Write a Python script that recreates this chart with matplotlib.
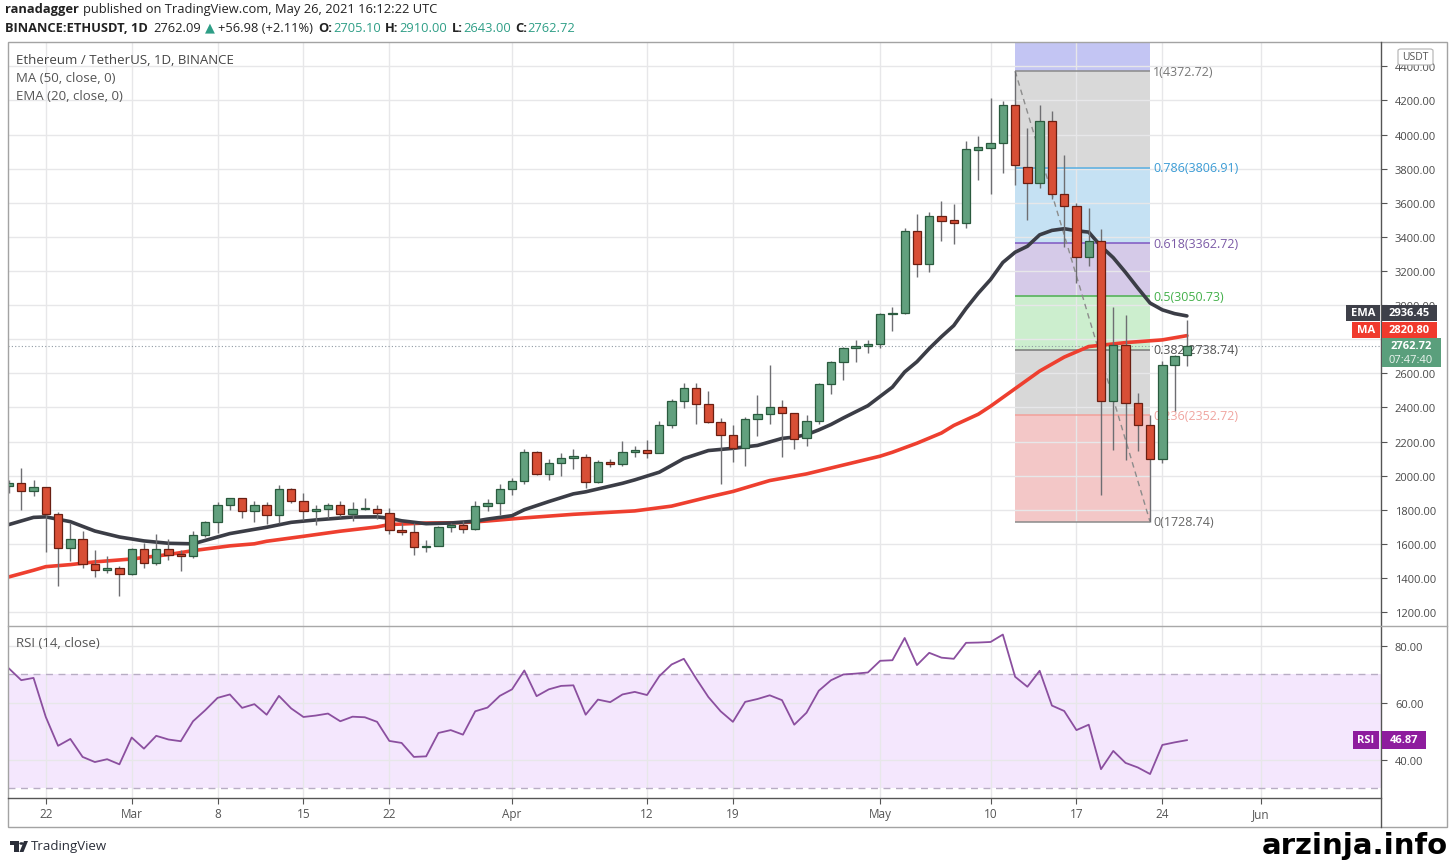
import matplotlib
matplotlib.use('Agg')
import matplotlib.pyplot as plt
import matplotlib.dates as mdates
import matplotlib.patches as mpatches
import pandas as pd

plt.rcParams['font.family'] = ['Open Sans', 'DejaVu Sans']

# BINANCE:ETHUSDT daily candles, 19 Feb - 26 May 2021
start = '2021-02-19'
opens = [1937, 1957, 1912, 1932, 1777, 1576, 1629, 1484, 1449, 1460,
         1421, 1570, 1488, 1570, 1543, 1527, 1650, 1726, 1830, 1867,
         1795, 1826, 1769, 1924, 1851, 1793, 1806, 1826, 1773, 1806,
         1806, 1781, 1683, 1670, 1582, 1590, 1699, 1713, 1687, 1820, 1840,
         1920, 1970, 2139, 2012, 2076, 2105, 2111, 1962, 2082, 2068,
         2139, 2152, 2135, 2299, 2436, 2516, 2422, 2316, 2236, 2162,
         2333, 2362, 2400, 2368, 2220, 2323, 2538, 2665, 2748, 2760,
         2770, 2949, 2953, 3432, 3240, 3522, 3498, 3483, 3911, 3922,
         3950, 4173, 3812, 3718, 4081, 3649, 3580, 3282, 3374, 2436,
         2767, 2426, 2295, 2095, 2647, 2705.10]
highs = [1977, 2045, 1973, 1935, 1785, 1722, 1674, 1566, 1527, 1472,
         1576, 1605, 1658, 1629, 1566, 1674, 1736, 1844, 1870, 1870,
         1853, 1846, 1947, 1930, 1898, 1826, 1840, 1849, 1845, 1869,
         1826, 1810, 1722, 1722, 1621, 1707, 1722, 1732, 1849, 1863, 1949,
         1988, 2154, 2145, 2096, 2135, 2154, 2125, 2092, 2096, 2203,
         2174, 2209, 2320, 2448, 2541, 2545, 2496, 2340, 2295, 2346,
         2474, 2650, 2441, 2368, 2357, 2542, 2675, 2753, 2798, 2798,
         2953, 2988, 3451, 3532, 3545, 3610, 3594, 3965, 3991, 4212,
         4196, 4372.72, 4039, 4176, 4137, 3881, 3597, 3567, 3444, 2987,
         2942, 2485, 2358, 2672, 2710, 2910.00]
lows = [1898, 1800, 1879, 1550, 1351, 1498, 1458, 1406, 1429, 1296,
        1419, 1458, 1476, 1507, 1439, 1515, 1640, 1664, 1800, 1752,
        1726, 1718, 1722, 1840, 1742, 1713, 1752, 1756, 1732, 1800,
        1746, 1660, 1650, 1537, 1550, 1586, 1668, 1664, 1679, 1791, 1767,
        1884, 1949, 2002, 1974, 1998, 2041, 1929, 1955, 2053, 2057,
        2111, 2105, 2130, 2281, 2397, 2301, 2311, 1949, 2080, 2059,
        2235, 2304, 2108, 2157, 2173, 2304, 2480, 2558, 2665, 2720,
        2748, 2851, 2949, 3164, 3197, 3375, 3359, 3453, 3731, 3649,
        3772, 3704, 3498, 3689, 3620, 3341, 3130, 3232, 1886, 2151,
        2092, 2143, 1728.74, 2076, 2380, 2643.00]
closes = [1957, 1908, 1932, 1773, 1576, 1629, 1484, 1445, 1460, 1421,
          1570, 1488, 1570, 1537, 1527, 1650, 1726, 1830, 1867, 1795,
          1826, 1769, 1924, 1849, 1793, 1806, 1826, 1773, 1806, 1810,
          1781, 1683, 1670, 1582, 1590, 1699, 1713, 1687, 1820, 1840, 1920,
          1970, 2139, 2012, 2076, 2105, 2113, 1962, 2082, 2068, 2139,
          2152, 2135, 2299, 2436, 2516, 2422, 2316, 2236, 2162, 2333,
          2362, 2400, 2368, 2216, 2323, 2538, 2665, 2748, 2763, 2773,
          2949, 2953, 3432, 3240, 3522, 3496, 3483, 3913, 3926, 3950,
          4173, 3822, 3718, 4078, 3649, 3582, 3282, 3374, 2436, 2767,
          2426, 2298, 2095, 2647, 2701, 2762.72]

# RSI (14, close), one value per candle
rsi = [72.0, 67.9, 68.7, 55.0, 44.9, 47.3, 41.0, 39.2, 40.2, 38.4,
       47.8, 43.9, 48.4, 47.1, 46.5, 53.5, 57.4, 61.7, 62.9, 58.2,
       59.5, 55.8, 62.4, 58.0, 55.0, 55.5, 56.2, 53.5, 55.1, 54.9,
       53.3, 46.6, 45.9, 41.0, 41.2, 49.4, 50.4, 48.8, 57.0, 58.3, 62.4,
       64.7, 71.3, 62.3, 64.7, 65.9, 66.1, 55.8, 61.1, 60.2, 62.9,
       63.8, 62.7, 69.3, 73.4, 75.4, 68.5, 62.0, 57.0, 53.3, 60.3,
       61.3, 62.6, 60.9, 52.3, 56.5, 64.2, 67.9, 69.9, 70.2, 70.6,
       74.7, 74.9, 82.7, 73.2, 77.5, 75.8, 75.4, 81.0, 81.1, 81.3,
       83.9, 69.1, 65.6, 71.2, 59.0, 57.1, 50.4, 52.3, 36.7, 43.1,
       38.9, 37.3, 35.0, 45.2, 46.1, 46.87]

# EMA 20 and MA 50 read at sample dates
ema_dates = ['02-19', '02-21', '02-22', '02-24', '02-26', '02-28', '03-02', '03-04', '03-06',
             '03-07', '03-09', '03-11', '03-12', '03-14', '03-16', '03-19', '03-21', '03-22',
             '03-23', '03-25', '03-27', '03-29', '03-30', '04-01', '04-02', '04-04', '04-06',
             '04-07', '04-10', '04-11', '04-13', '04-15', '04-17', '04-19', '04-21', '04-23',
             '04-24', '04-25', '04-26', '04-27', '04-28', '04-30', '05-02', '05-03', '05-04',
             '05-05', '05-06', '05-07', '05-08', '05-09', '05-10', '05-11', '05-12', '05-13',
             '05-14', '05-15', '05-16', '05-17', '05-18', '05-19', '05-20', '05-21', '05-22',
             '05-23', '05-24', '05-25', '05-26']
ema_vals = [1713, 1755, 1758, 1730, 1675, 1640, 1617, 1603, 1600,
            1620, 1660, 1685, 1697, 1726, 1740, 1757, 1758, 1750,
            1735, 1718, 1722, 1733, 1745, 1765, 1800, 1848, 1893,
            1905, 1955, 1975, 2020, 2100, 2147, 2160, 2177, 2218,
            2226, 2240, 2268, 2300, 2338, 2410, 2519, 2608, 2668,
            2745, 2815, 2880, 2980, 3070, 3150, 3250, 3310, 3345,
            3412, 3438, 3448, 3436, 3428, 3345, 3278, 3192, 3100,
            3012, 2972, 2950, 2936.45]
ma_dates = ['02-19', '02-21', '02-22', '02-24', '02-26', '03-01', '03-04', '03-06', '03-09',
            '03-11', '03-12', '03-15', '03-18', '03-21', '03-22', '03-25', '03-28', '03-30',
            '04-02', '04-06', '04-11', '04-14', '04-17', '04-19', '04-22', '04-25', '04-28',
            '05-01', '05-02', '05-04', '05-06', '05-07', '05-09', '05-10', '05-12', '05-14',
            '05-16', '05-18', '05-21', '05-24', '05-26']
ma_vals = [1406, 1445, 1466, 1478, 1494, 1511, 1537, 1560, 1588,
           1600, 1615, 1644, 1674, 1699, 1713, 1722, 1724, 1734,
           1752, 1773, 1793, 1821, 1874, 1907, 1971, 2010, 2062,
           2114, 2137, 2190, 2250, 2294, 2360, 2407, 2510, 2613,
           2695, 2757, 2780, 2796, 2820.80]

# Fibonacci retracement drawn from the 12 May high to the 23 May low
fib_levels = [1, 0.786, 0.618, 0.5, 0.382, 0.236, 0]
fib_prices = [4372.72, 3806.91, 3362.72, 3050.73, 2738.74, 2352.72, 1728.74]
fib_start, fib_end = '2021-05-12', '2021-05-23'

tick_dates = ['2021-02-22', '2021-03-01', '2021-03-08', '2021-03-15', '2021-03-22',
              '2021-04-01', '2021-04-12', '2021-04-19', '2021-05-01', '2021-05-10',
              '2021-05-17', '2021-05-24', '2021-06-01']
tick_labels = ['22', 'Mar', '8', '15', '22', 'Apr', '12', '19', 'May', '10', '17', '24', 'Jun']
price_ticks = list(range(1200, 4401, 200))
hidden_price_labels = [2800]  # covered by the MA / last price boxes
rsi_ticks = [40, 60, 80]

last_price = 2762.72

# colours
UP, UP_EDGE = '#62a07e', '#2a5a3e'
DN, DN_EDGE = '#d84f36', '#6a1f12'
WICK = '#6e6e72'
GRID = '#e7e7e9'
TEAL = '#2e9e86'
DARK = '#222222'

W, H = 1450, 862
fig = plt.figure(figsize=(W / 100, H / 100), dpi=100)


def fx(px):
    return px / W


def fy(py):
    return 1 - py / H


def px_text(x, y, s, **kw):
    kw.setdefault('va', 'center')
    return fig.text(fx(x), fy(y), s, **kw)


def px_box(x0, y0, x1, y1, fc, ec='none', lw=0, style='square,pad=0', z=5):
    p = mpatches.FancyBboxPatch((fx(x0), fy(y1)), (x1 - x0) / W, (y1 - y0) / H,
                                boxstyle=style, transform=fig.transFigure,
                                fc=fc, ec=ec, lw=lw, zorder=z)
    fig.add_artist(p)


def px_line(xs, ys, color, lw=1):
    fig.add_artist(plt.Line2D([fx(v) for v in xs], [fy(v) for v in ys],
                              transform=fig.transFigure, color=color, lw=lw, zorder=4))


ax = fig.add_axes([fx(8), fy(627), fx(1381) - fx(8), fy(43) - fy(627)])
rax = fig.add_axes([fx(8), fy(798.7), fx(1381) - fx(8), fy(627) - fy(798.7)], sharex=ax)

dates = pd.date_range(start, periods=len(closes), freq='D')
x = mdates.date2num(dates)
x0 = x[0]

# ---- price pane ----
ax.set_xlim(x0 - 0.08, x0 - 0.08 + 111.9)
ax.set_ylim(1118, 4543)
ax.set_axisbelow(True)
ax.grid(True, color=GRID, lw=1)

# fib boxes
f0 = mdates.date2num(pd.Timestamp(fib_start))
f1 = mdates.date2num(pd.Timestamp(fib_end))
band_cols = ['#898de9', '#b5b5b5', '#8dc5e9', '#ad97d3', '#9bdf9f', '#b3b3b3', '#e99191']
band_edges = [4800] + fib_prices
for i, c in enumerate(band_cols):
    lo, hi = band_edges[i + 1], band_edges[i]
    ax.add_patch(mpatches.Rectangle((f0, lo), f1 - f0, hi - lo, fc=c, ec='none',
                                    alpha=0.5, zorder=0.3))
line_cols = ['#8a8a8a', '#5aaee0', '#7e57c2', '#4caf50', '#7a7a7a', '#f2a09a', '#8a8a8a']
text_cols = ['#777777', '#3a9bd5', '#7b5aa6', '#43b04a', '#555555', '#f0a5a0', '#666666']
ax.hlines(fib_prices, f0, f1, colors=line_cols, lw=1.1, zorder=1)
for lvl, p, c in zip(fib_levels, fib_prices, text_cols):
    ax.text(f1 + 0.25, p, f'{lvl}({p:.2f})', color=c, fontsize=9, va='center', zorder=2)
ax.plot([f0, f1], [fib_prices[0], fib_prices[-1]], ls=(0, (4, 3)), color='#8c8c8c', lw=1, zorder=2)

# last price dotted line
ax.axhline(last_price, color='#8f9aa3', lw=0.8, ls=(0, (1, 2)), zorder=1)

# moving averages
ema_x = mdates.date2num(pd.to_datetime(['2021-' + d for d in ema_dates]))
ma_x = mdates.date2num(pd.to_datetime(['2021-' + d for d in ma_dates]))
ax.plot(ma_x, ma_vals, color='#ee3f2f', lw=2.6, solid_capstyle='round', zorder=2.5)
ax.plot(ema_x, ema_vals, color='#3b3d46', lw=2.6, solid_capstyle='round', zorder=2.6)

# candles
up = [c >= o for o, c in zip(opens, closes)]
body_lo = [min(o, c) for o, c in zip(opens, closes)]
body_h = [max(abs(c - o), 6) for o, c in zip(opens, closes)]
ax.vlines(x, lows, highs, color=WICK, lw=1, zorder=4)
ax.bar(x, body_h, bottom=body_lo, width=0.68,
       color=[UP if u else DN for u in up],
       edgecolor=[UP_EDGE if u else DN_EDGE for u in up], lw=0.9, zorder=5)

ax.yaxis.tick_right()
ax.set_yticks(price_ticks)
ax.set_yticklabels(['' if v in hidden_price_labels else f'{v:.2f}' for v in price_ticks])
ax.tick_params(axis='y', length=4, color='#555555', labelsize=8, labelcolor='#4a4a4a', pad=6)
ax.tick_params(axis='x', bottom=False, labelbottom=False)
for s in ax.spines.values():
    s.set_visible(False)

# ---- RSI pane ----
rax.set_ylim(26.7, 86.9)
rax.set_axisbelow(True)
rax.grid(True, color=GRID, lw=1)
rax.axhspan(30, 70, color='#f4e7fd', lw=0, zorder=0.2)
rax.axhline(70, color='#b8adc4', lw=1, ls=(0, (5, 4)), zorder=1)
rax.axhline(30, color='#b8adc4', lw=1, ls=(0, (5, 4)), zorder=1)
rax.plot(x, rsi, color='#8b4f9f', lw=1.3, zorder=3)
rax.yaxis.tick_right()
rax.set_yticks(rsi_ticks)
rax.set_yticklabels([f'{v:.2f}' for v in rsi_ticks])
rax.tick_params(axis='y', length=4, color='#555555', labelsize=8, labelcolor='#4a4a4a', pad=6)
rax.set_xticks(mdates.date2num(pd.to_datetime(tick_dates)))
rax.set_xticklabels(tick_labels)
rax.tick_params(axis='x', length=4, color='#555555', labelsize=8.5, labelcolor='#555555', pad=3)
for s in rax.spines.values():
    s.set_visible(False)

# ---- frame lines ----
px_box(7.5, 43, 1447, 828, 'none', ec='#a3a3a3', lw=1, z=4)
px_line([1381, 1381], [43, 828], '#555555')
px_line([8, 1447], [627, 627], '#a8a8a8')
px_line([8, 1381], [798.7, 798.7], '#555555')

# ---- header ----
def run_text(x, y, parts, size=9):
    r = fig.canvas.get_renderer()
    for s, color, weight, gap in parts:
        t = px_text(x, y, s, color=color, fontweight=weight, fontsize=size)
        x += t.get_window_extent(r).width + gap


run_text(5, 10, [('ranadagger', DARK, 'bold', 4),
                 ('published on TradingView.com, May 26, 2021 16:12:22 UTC', DARK, 'normal', 0)],
         size=9.3)
run_text(5, 28, [('BINANCE:ETHUSDT, 1D', DARK, 'bold', 5), ('2762.09', DARK, 'normal', 4),
                 ('▲', TEAL, 'normal', 4), ('+56.98 (+2.11%)', DARK, 'normal', 5),
                 ('O:', DARK, 'bold', 0.5), ('2705.10', TEAL, 'normal', 4.5),
                 ('H:', DARK, 'bold', 0.5), ('2910.00', TEAL, 'normal', 4.5),
                 ('L:', DARK, 'bold', 0.5), ('2643.00', TEAL, 'normal', 4.5),
                 ('C:', DARK, 'bold', 0.5), ('2762.72', TEAL, 'normal', 0)],
         size=9.3)

px_text(16, 60, 'Ethereum / TetherUS, 1D, BINANCE', color='#444444', fontsize=9.5)
px_text(16, 79, 'MA (50, close, 0)', color='#555555', fontsize=9.5)
px_text(16, 97, 'EMA (20, close, 0)', color='#555555', fontsize=9.5)
px_text(16, 644, 'RSI (14, close)', color='#555555', fontsize=9.5)

# ---- price scale labels ----
px_box(1398, 50, 1433, 66, 'white', ec='#b0b0b0', lw=0.8, style='round,pad=0,rounding_size=0.002', z=6)
px_text(1415.5, 58, 'USDT', color='#555555', fontsize=7.5, ha='center', zorder=7)

px_box(1346, 306, 1380, 322, '#3e4049')
px_text(1363, 314, 'EMA', color='white', fontsize=8, fontweight='bold', ha='center', zorder=7)
px_box(1382, 306, 1437, 322, '#3e4049')
px_text(1409.5, 314, '2936.45', color='white', fontsize=8, fontweight='bold', ha='center', zorder=7)

px_box(1352, 323, 1380, 339, '#f03a2d')
px_text(1366, 331, 'MA', color='white', fontsize=8, fontweight='bold', ha='center', zorder=7)
px_box(1382, 323, 1437, 339, '#f03a2d')
px_text(1409.5, 331, '2820.80', color='white', fontsize=8, fontweight='bold', ha='center', zorder=7)

px_box(1382, 339, 1441, 368, '#5a9f7c')
px_text(1411, 347, '2762.72', color='white', fontsize=8, fontweight='bold', ha='center', zorder=7)
px_text(1411, 361, '07:47:40', color='#eef6f1', fontsize=8, ha='center', zorder=7)

px_box(1353, 732, 1379, 750, '#8e1c9e')
px_text(1366, 741, 'RSI', color='white', fontsize=8, fontweight='bold', ha='center', zorder=7)
px_box(1382, 732, 1426, 750, '#8e1c9e')
px_text(1404, 741, '46.87', color='white', fontsize=8, fontweight='bold', ha='center', zorder=7)

# ---- footer ----
px_box(10, 842, 19, 846, '#2a2e39', z=6)
px_box(14, 842, 18.5, 853, '#2a2e39', z=6)
fig.add_artist(mpatches.Circle((fx(21.5), fy(844.5)), 2.2 / W, transform=fig.transFigure,
                               fc='#2a2e39', ec='none', zorder=6))
fig.add_artist(mpatches.Polygon([(fx(19.5), fy(853)), (fx(24), fy(842)), (fx(28), fy(842)),
                                 (fx(23.5), fy(853))], closed=True, transform=fig.transFigure,
                                fc='#2a2e39', ec='none', zorder=6))
px_text(31, 847, 'TradingView', color='#2a2e39', fontsize=9.5)
px_text(1448, 846, 'arzinja.info', color='black', fontsize=21, fontweight='bold',
        family='DejaVu Sans', ha='right')

fig.savefig('out.png', dpi=100, facecolor='white')
